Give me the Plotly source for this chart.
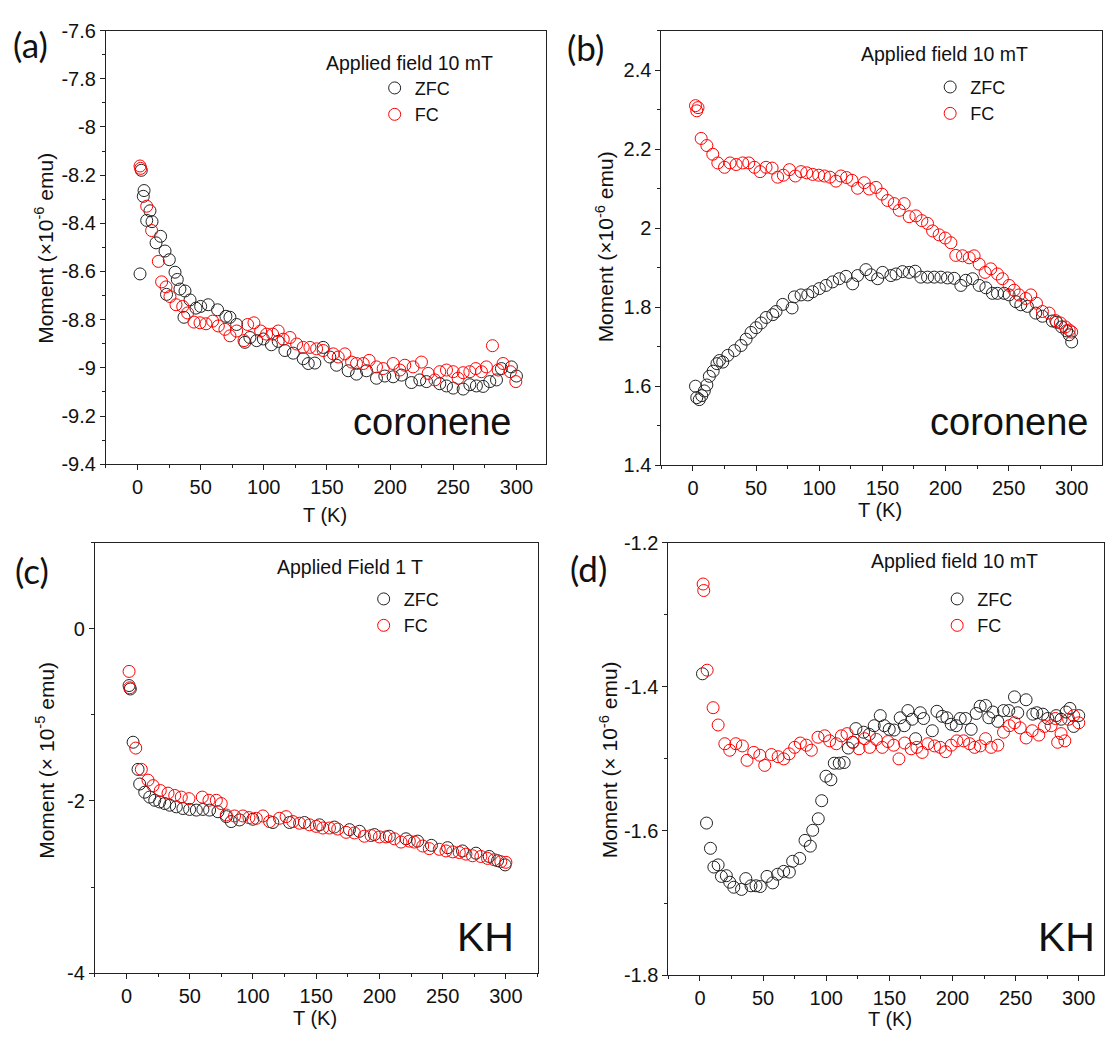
import plotly.graph_objects as go

W, H = 1105, 1043

# ---------------- data ----------------
# Panel (a) coronene, 10 mT, moment in 1e-6 emu
a_zfc_T = [2, 3, 4.6, 5.2, 7.3, 9.9, 11.5, 14.7, 18.3, 21.8, 23, 25.2, 29.7, 31.5, 33.6, 36.8, 37.6,
           41.6, 46.3, 50, 56, 63.4, 70, 73.2, 78.5, 85, 89, 94.3, 99.6, 106, 111.4, 116.7, 123.3,
           131.2, 135.2, 140.4, 147, 152.3, 157.6, 166.8, 173.4, 181.3, 189.2, 195.8, 202.4, 209,
           216.9, 223.5, 228.8, 239.3, 244.6, 249.9, 257.8, 263.1, 268.3, 273.6, 278.9, 284.2,
           288.1, 296, 300]
a_zfc_M = [-8.61, -8.18, -8.288, -8.264, -8.388, -8.348, -8.393, -8.481, -8.454, -8.515, -8.695,
           -8.551, -8.603, -8.633, -8.673, -8.79, -8.681, -8.718, -8.752, -8.745, -8.738, -8.759,
           -8.786, -8.79, -8.82, -8.894, -8.874, -8.887, -8.88, -8.904, -8.89, -8.928, -8.939,
           -8.962, -8.982, -8.98, -8.915, -8.955, -8.989, -9.012, -9.026, -9.012, -9.043, -9.034,
           -9.037, -9.03, -9.061, -9.05, -9.057, -9.066, -9.075, -9.084, -9.088, -9.07, -9.075,
           -9.077, -9.057, -9.05, -9.003, -8.996, -9.034]
a_fc_T = [2, 2.5, 7.3, 11.2, 16.5, 19.1, 22.6, 25.7, 30.5, 35.8, 39.7, 44.7, 49.5, 54.2, 59.5, 64,
          69.2, 73.2, 78.5, 84.3, 87.2, 92.2, 97.5, 102.2, 107, 111.4, 115.4, 120.7, 126, 131.2,
          136.5, 141.8, 147, 155, 158.9, 164.2, 169.5, 173.4, 178.7, 183.4, 189.2, 194.5, 202.4,
          207.7, 211.6, 218.2, 224.8, 230.1, 235.4, 239.3, 244.6, 249.9, 253.8, 257.8, 263.1,
          267.8, 272.3, 276.2, 281, 285.5, 289.4, 295.2, 299.5]
a_fc_M = [-8.162, -8.172, -8.329, -8.43, -8.558, -8.643, -8.664, -8.704, -8.738, -8.745, -8.772,
          -8.81, -8.813, -8.817, -8.806, -8.826, -8.84, -8.867, -8.847, -8.887, -8.82, -8.813,
          -8.847, -8.86, -8.86, -8.847, -8.881, -8.874, -8.901, -8.915, -8.915, -8.921, -8.928,
          -8.942, -8.955, -8.942, -8.976, -8.982, -8.982, -8.969, -8.996, -9.003, -8.982, -9.009,
          -8.989, -8.996, -8.976, -9.023, -9.05, -9.016, -9.009, -9.016, -9.043, -9.02, -9.016,
          -9.003, -9.016, -8.996, -8.908, -9.009, -8.982, -9.016, -9.057]

# Panel (b) coronene, 10 mT, moment in 1e-6 emu
b_zfc_T = [2, 3, 5, 7, 9, 11, 13, 16, 19, 21, 23.6, 27.6, 32.9, 38.1, 42.1, 46, 50, 54, 58, 63.2,
           65.8, 71.1, 78.5, 80.3, 85.6, 90.9, 94.8, 100.1, 105.4, 110.6, 115.9, 121.2, 126.5,
           130.4, 137, 141, 146.3, 150.2, 156.8, 160.8, 166, 171.3, 176, 180.5, 185.8, 191.1,
           196.4, 201.6, 206.9, 212.2, 216.1, 221.4, 226.7, 232, 237.2, 241.2, 246.5, 250.4,
           255.7, 259.7, 264.9, 271.5, 276.8, 284.7, 288, 292, 296, 298, 300]
b_zfc_M = [1.60, 1.571, 1.566, 1.576, 1.588, 1.603, 1.625, 1.638, 1.657, 1.665, 1.661, 1.678, 1.69,
           1.703, 1.719, 1.736, 1.748, 1.76, 1.774, 1.781, 1.789, 1.807, 1.798, 1.826, 1.831,
           1.831, 1.839, 1.847, 1.855, 1.864, 1.872, 1.878, 1.859, 1.88, 1.895, 1.882, 1.872,
           1.888, 1.88, 1.884, 1.89, 1.888, 1.891, 1.876, 1.876, 1.876, 1.876, 1.874, 1.873,
           1.855, 1.868, 1.872, 1.855, 1.849, 1.835, 1.835, 1.835, 1.831, 1.814, 1.806, 1.802,
           1.785, 1.777, 1.765, 1.762, 1.75, 1.74, 1.73, 1.712]
b_fc_T = [2, 3, 4, 6.5, 11, 15.7, 19.7, 25, 29.4, 34.2, 39.4, 44.2, 48.7, 53.2, 57.9, 62.7, 67.1,
          71.6, 76.4, 81.1, 85.6, 90.1, 94.8, 99.6, 104.1, 108.5, 113.3, 117.2, 121.7, 126, 130.4,
          135.7, 139.7, 145, 149.7, 154.2, 159.4, 163.4, 167.3, 171.3, 176.6, 181.3, 185.8, 189.8,
          195, 199.8, 204.3, 208.2, 213.5, 218.8, 222.7, 226.7, 231.4, 235.9, 241.2, 245.1,
          250.4, 254.4, 258.3, 263.6, 267.6, 272.1, 276.8, 282.1, 287.3, 291, 295, 298, 300]
b_fc_M = [2.31, 2.297, 2.305, 2.227, 2.209, 2.187, 2.165, 2.154, 2.165, 2.161, 2.165, 2.165, 2.154,
          2.143, 2.154, 2.152, 2.129, 2.134, 2.148, 2.132, 2.143, 2.14, 2.136, 2.134, 2.132,
          2.129, 2.119, 2.132, 2.128, 2.121, 2.101, 2.115, 2.099, 2.103, 2.086, 2.07, 2.062,
          2.045, 2.062, 2.029, 2.031, 2.019, 2.012, 1.993, 1.983, 1.975, 1.963, 1.931, 1.93,
          1.925, 1.93, 1.909, 1.888, 1.897, 1.884, 1.872, 1.855, 1.843, 1.831, 1.822, 1.831,
          1.81, 1.789, 1.785, 1.766, 1.76, 1.75, 1.742, 1.737]

# Panel (c) KH, 1 T, moment in 1e-5 emu
c_zfc_T = [2, 3, 5.2, 9.1, 10.4, 14.4, 18.3, 22.3, 26.2, 30.2, 34.1, 39.4, 44.6, 49.9, 55.2, 60.4,
           65.7, 72.3, 78.9, 82.8, 89.4, 99.9, 115.7, 128.9, 140.7, 152.6, 164.4, 176.3, 184.2,
           196, 207.8, 221, 230.2, 241.1, 253.9, 265.7, 276.3, 286.8, 293.4, 299.4]
c_zfc_M = [-0.66, -0.70, -1.318, -1.633, -1.803, -1.898, -1.955, -1.992, -2.011, -2.03, -2.049,
           -2.068, -2.087, -2.098, -2.106, -2.098, -2.106, -2.125, -2.182, -2.239, -2.22, -2.212,
           -2.25, -2.25, -2.25, -2.277, -2.303, -2.333, -2.352, -2.39, -2.409, -2.439, -2.466,
           -2.515, -2.542, -2.58, -2.606, -2.644, -2.693, -2.742]
c_fc_T = [2, 2.5, 7.3, 11.7, 17, 21, 26.7, 32.8, 38.1, 43.3, 49.4, 59.9, 65.2, 71, 74.9, 78.9,
          85.4, 92, 96.8, 102.6, 107.8, 113.1, 120.9, 126.2, 131.5, 136.8, 144.7, 150, 155.2,
          160.5, 167, 173.6, 180.2, 188.1, 193.4, 200, 205.2, 211.8, 217.1, 223.6, 227.6, 234.2,
          239.4, 247.3, 252.6, 257.9, 263.1, 268.4, 273.6, 280.2, 285.5, 290.8, 296, 300]
c_fc_M = [-0.496, -0.686, -1.386, -1.633, -1.758, -1.822, -1.879, -1.909, -1.936, -1.955, -1.973,
          -1.955, -1.992, -1.992, -2.03, -2.163, -2.174, -2.174, -2.193, -2.201, -2.174, -2.239,
          -2.201, -2.182, -2.239, -2.258, -2.277, -2.295, -2.314, -2.314, -2.326, -2.364, -2.371,
          -2.409, -2.402, -2.417, -2.417, -2.439, -2.477, -2.466, -2.477, -2.523, -2.553, -2.561,
          -2.58, -2.591, -2.598, -2.617, -2.636, -2.644, -2.667, -2.682, -2.705, -2.712]

# Panel (d) KH, 10 mT, moment in 1e-6 emu
d_zfc_T = [2, 5.2, 8.3, 11, 14.4, 17, 20.9, 23.6, 26.8, 32.9, 36.3, 40.4, 44.4, 47.8, 53.1, 57.6,
           61.5, 66.3, 70.8, 73.4, 79, 83.2, 87.4, 89.3, 93.7, 96.4, 99.8, 103.7, 106.4, 110.3,
           114.2, 117.5, 120.9, 123.5, 129.6, 134.1, 138, 142.8, 146, 149.9, 153.8, 158.6, 161.8,
           164.7, 168.1, 170.8, 174.5, 177.1, 184, 187.7, 191.9, 195.6, 199, 203, 206.1, 210.3,
           214.8, 218.8, 221.9, 226.2, 228.8, 232, 235.9, 240.4, 244.6, 249.1, 251.7, 258.3,
           263.6, 266.8, 271.5, 275.5, 282.1, 286, 290, 293, 296, 300]
d_zfc_M = [-1.382, -1.589, -1.624, -1.65, -1.647, -1.663, -1.662, -1.671, -1.678, -1.681, -1.666,
           -1.676, -1.676, -1.677, -1.663, -1.672, -1.66, -1.656, -1.657, -1.642, -1.638, -1.613,
           -1.621, -1.599, -1.583, -1.558, -1.524, -1.529, -1.506, -1.506, -1.505, -1.485, -1.477,
           -1.458, -1.463, -1.466, -1.454, -1.44, -1.454, -1.459, -1.46, -1.443, -1.454, -1.433,
           -1.445, -1.472, -1.436, -1.444, -1.461, -1.434, -1.441, -1.443, -1.452, -1.454, -1.444,
           -1.444, -1.459, -1.437, -1.427, -1.426, -1.443, -1.435, -1.448, -1.433, -1.433, -1.414,
           -1.436, -1.418, -1.438, -1.436, -1.438, -1.444, -1.44, -1.445, -1.435, -1.43, -1.455,
           -1.44]
d_fc_T = [2.5, 3, 5.7, 10.4, 14.4, 19.7, 23.6, 28.4, 33.6, 37.3, 42.6, 47.4, 51.3, 56.6, 61.9,
          66.3, 70.6, 75, 79.5, 84.3, 88.2, 93.5, 98.8, 102.7, 108, 112, 116.5, 121.2, 126, 130.4,
          134.4, 139.7, 144.4, 148.9, 153.4, 157.6, 162.1, 167.3, 171.8, 176, 180.5, 185.8, 190.3,
          194.5, 199, 203.5, 208.8, 213.5, 217.5, 222, 226.2, 230.6, 235.9, 240.4, 245.1, 249.1,
          253.6, 258.3, 263.1, 268.4, 272.8, 278.1, 281.5, 283.3, 286, 289, 292, 296, 300]
d_fc_M = [-1.2575, -1.2665, -1.377, -1.429, -1.453, -1.479, -1.488, -1.479, -1.482, -1.502, -1.491,
          -1.495, -1.509, -1.494, -1.497, -1.5, -1.493, -1.484, -1.478, -1.481, -1.488, -1.47,
          -1.468, -1.475, -1.479, -1.468, -1.465, -1.477, -1.486, -1.472, -1.484, -1.473, -1.484,
          -1.476, -1.481, -1.5, -1.478, -1.486, -1.484, -1.491, -1.479, -1.482, -1.484, -1.49,
          -1.481, -1.475, -1.475, -1.479, -1.484, -1.482, -1.472, -1.484, -1.481, -1.463, -1.454,
          -1.45, -1.457, -1.471, -1.461, -1.467, -1.455, -1.454, -1.444, -1.477, -1.465, -1.475,
          -1.445, -1.44, -1.45]

# tick labels
x_tickvals = [0, 50, 100, 150, 200, 250, 300]
x_ticktext = ["0", "50", "100", "150", "200", "250", "300"]
a_tickvals = [-7.6, -7.8, -8, -8.2, -8.4, -8.6, -8.8, -9, -9.2, -9.4]
a_ticktext = ["-7.6", "-7.8", "-8", "-8.2", "-8.4", "-8.6", "-8.8", "-9", "-9.2", "-9.4"]
b_tickvals = [1.4, 1.6, 1.8, 2, 2.2, 2.4]
b_ticktext = ["1.4", "1.6", "1.8", "2", "2.2", "2.4"]
c_tickvals = [-4, -2, 0]
c_ticktext = ["-4", "-2", "0"]
d_tickvals = [-1.8, -1.6, -1.4, -1.2]
d_ticktext = ["-1.8", "-1.6", "-1.4", "-1.2"]

# ---------------- layout helpers ----------------
FONT = "Liberation Sans, Arial, sans-serif"
TXT = "#111"
AX = "#222"


def px_x(x):
    return x / W


def px_y(y):
    return 1 - y / H


panels = {
    # name: (x0, x1, y_top, y_bottom, xrange, yrange, yticks, yticktext, (minor dtick, tick0))
    "a": (106, 546, 20, 463, [-25, 323], [-9.4, -7.6], a_tickvals, a_ticktext, (0.1, -7.6)),
    "b": (662, 1103, 20, 464, [-25, 324], [1.4, 2.5], b_tickvals, b_ticktext, (0.1, 1.4)),
    "c": (95, 538, 543, 983, [-25, 325], [-4, 1], c_tickvals, c_ticktext, (1, 0)),
    "d": (669, 1105, 543, 985, [-25, 320], [-1.8, -1.2], d_tickvals, d_ticktext, (0.1, -1.2)),
}

series = {
    "a": (a_zfc_T, a_zfc_M, a_fc_T, a_fc_M),
    "b": (b_zfc_T, b_zfc_M, b_fc_T, b_fc_M),
    "c": (c_zfc_T, c_zfc_M, c_fc_T, c_fc_M),
    "d": (d_zfc_T, d_zfc_M, d_fc_T, d_fc_M),
}

# legend box top-left (pixels)
legend_pos = {"a": (375, 60), "b": (931, 59), "c": (364, 582), "d": (938, 582)}

fig = go.Figure()
layout = dict(
    width=W, height=H, margin=dict(l=0, r=0, t=0, b=0),
    paper_bgcolor="white", plot_bgcolor="white",
    font=dict(family=FONT, size=19, color=TXT),
)

for i, key in enumerate(["a", "b", "c", "d"]):
    x0, x1, yt, yb, xr, yr, tv, tt, (mdt, mt0) = panels[key]
    sfx = "" if i == 0 else str(i + 1)
    leg = "legend" if i == 0 else f"legend{i + 1}"
    zT, zM, fT, fM = series[key]
    fig.add_trace(go.Scatter(x=zT, y=zM, mode="markers", name="ZFC",
                             xaxis="x" + sfx, yaxis="y" + sfx, legend=leg,
                             marker=dict(symbol="circle-open", size=12, color="#222",
                                         line=dict(width=1))))
    fig.add_trace(go.Scatter(x=fT, y=fM, mode="markers", name="FC",
                             xaxis="x" + sfx, yaxis="y" + sfx, legend=leg,
                             marker=dict(symbol="circle-open", size=12, color="#ff0000",
                                         line=dict(width=1))))
    common = dict(showline=True, linecolor=AX, linewidth=1, mirror=True,
                  ticks="outside", ticklen=5, tickwidth=1, tickcolor=AX,
                  showgrid=False, zeroline=False,
                  tickfont=dict(family=FONT, size=20, color=TXT))
    layout["xaxis" + sfx] = dict(
        common, domain=[px_x(x0), px_x(x1)], range=xr, anchor="y" + sfx,
        tickmode="array", tickvals=x_tickvals, ticktext=x_ticktext,
        minor=dict(ticks="outside", ticklen=3, tickmode="linear", tick0=0, dtick=25,
                   tickcolor=AX))
    layout["yaxis" + sfx] = dict(
        common, domain=[px_y(yb), px_y(yt)], range=yr, anchor="x" + sfx,
        tickmode="array", tickvals=tv, ticktext=tt,
        minor=dict(ticks="outside", ticklen=3, tickmode="linear", tick0=mt0, dtick=mdt,
                   tickcolor=AX))
    lx, ly = legend_pos[key]
    layout[leg] = dict(x=px_x(lx), y=px_y(ly), xanchor="left", yanchor="top",
                       bgcolor="rgba(0,0,0,0)", borderwidth=0,
                       font=dict(family=FONT, size=18, color=TXT),
                       tracegroupgap=0, itemsizing="trace")

fig.update_layout(**layout)

ann = []
# panel letters
for txt, x, y in [("(a)", 31, 34), ("(b)", 586, 37), ("(c)", 32, 571), ("(d)", 589, 569)]:
    ann.append(dict(text=txt, x=px_x(x), y=px_y(y), xref="paper", yref="paper", showarrow=False,
                    font=dict(family="Lato, Open Sans, sans-serif", size=35, color=TXT),
                    xanchor="center", yanchor="middle"))
# field titles
for txt, x, y in [("Applied field 10 mT", 410, 53), ("Applied field 10 mT", 945, 44),
                  ("Applied Field 1 T", 350, 568), ("Applied field 10 mT", 955, 562)]:
    ann.append(dict(text=txt, x=px_x(x), y=px_y(y), xref="paper", yref="paper", showarrow=False,
                    font=dict(family=FONT, size=19.5, color=TXT), xanchor="center", yanchor="middle"))
# sample names
for txt, x, y, s in [("coronene", 432, 420, 38), ("coronene", 1010, 420, 38),
                     ("KH", 486, 946, 41), ("KH", 1067, 946, 41)]:
    ann.append(dict(text=txt, x=px_x(x), y=px_y(y), xref="paper", yref="paper", showarrow=False,
                    font=dict(family=FONT, size=s, color=TXT), xanchor="center", yanchor="middle"))
# axis titles
for txt, x, y in [("T (K)", 325, 515), ("T (K)", 881, 510), ("T (K)", 315, 1029), ("T (K)", 891, 1030)]:
    ann.append(dict(text=txt, x=px_x(x), y=px_y(y), xref="paper", yref="paper", showarrow=False,
                    font=dict(family=FONT, size=20, color=TXT), xanchor="center", yanchor="middle"))
for txt, x, y in [("Moment (×10<sup>-6</sup> emu)", 44, 242), ("Moment (×10<sup>-6</sup> emu)", 605, 241),
                  ("Moment (× 10<sup>-5</sup> emu)", 45, 765), ("Moment (× 10<sup>-6</sup> emu)", 609, 765)]:
    ann.append(dict(text=txt, x=px_x(x), y=px_y(y), xref="paper", yref="paper", showarrow=False,
                    textangle=-90, font=dict(family=FONT, size=21, color=TXT),
                    xanchor="center", yanchor="middle"))
fig.update_layout(annotations=ann)

fig.write_html("out.html")
